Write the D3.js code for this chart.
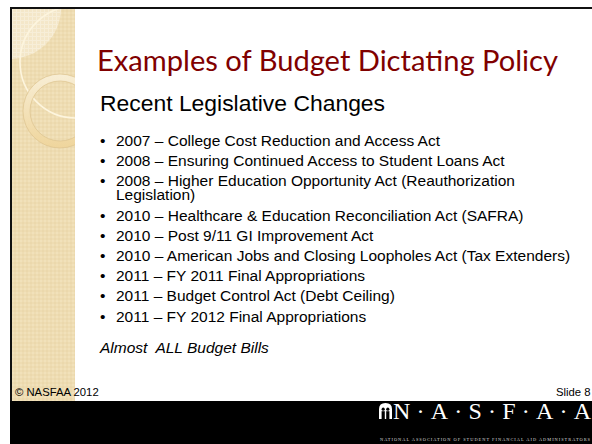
<!DOCTYPE html>
<html lang="en">
<head>
<meta charset="UTF-8">
<title>Examples of Budget Dictating Policy</title>
<script src="https://d3js.org/d3.v7.min.js"></script>
<style>
    body { margin: 0; background: #fff; }
    svg { display: block; }
    text { white-space: pre; }
</style>
</head>
<body>
<svg id="slide" width="592" height="444"></svg>
<script>
    // slide text
    const title = "Examples of Budget Dictating Policy";
    const subtitle = "Recent Legislative Changes";
    const bullets = [
        ["2007 – College Cost Reduction and Access Act"],
        ["2008 – Ensuring Continued Access to Student Loans Act"],
        ["2008 – Higher Education Opportunity Act (Reauthorization", "Legislation)"],
        ["2010 – Healthcare & Education Reconciliation Act (SAFRA)"],
        ["2010 – Post 9/11 GI Improvement Act"],
        ["2010 – American Jobs and Closing Loopholes Act (Tax Extenders)"],
        ["2011 – FY 2011 Final Appropriations"],
        ["2011 – Budget Control Act (Debt Ceiling)"],
        ["2011 – FY 2012 Final Appropriations"]
    ];
    const note = "Almost  ALL Budget Bills";
    const footerLeft = "© NASFAA 2012";
    const footerRight = "Slide 8";
    const logoText = "N·A·S·F·A·A";
    const logoSub = "NATIONAL ASSOCIATION OF STUDENT FINANCIAL AID ADMINISTRATORS";

    const svg = d3.select("#slide");
    const W = 592, H = 444;
    const defs = svg.append("defs");

    // subtle woven texture on the side panel
    const pat = defs.append("pattern").attr("id", "weave")
        .attr("width", 4).attr("height", 4).attr("patternUnits", "userSpaceOnUse");
    pat.append("rect").attr("width", 4).attr("height", 4).attr("fill", "#eedcb2");
    pat.append("rect").attr("width", 2).attr("height", 2).attr("fill", "#f1e1ba");
    pat.append("rect").attr("x", 2).attr("y", 2).attr("width", 2).attr("height", 2).attr("fill", "#ebd8ac");

    const pat2 = defs.append("pattern").attr("id", "weaveLight")
        .attr("width", 4).attr("height", 4).attr("patternUnits", "userSpaceOnUse");
    pat2.append("rect").attr("width", 4).attr("height", 4).attr("fill", "#f4e7c9");
    pat2.append("rect").attr("width", 4).attr("height", 1).attr("fill", "#f7eed8");
    pat2.append("rect").attr("width", 1).attr("height", 4).attr("fill", "#f7eed8");

    const ringGrad = defs.append("linearGradient").attr("id", "ringGrad")
        .attr("x1", 0).attr("y1", 0).attr("x2", 0).attr("y2", 1);
    ringGrad.append("stop").attr("offset", "0%").attr("stop-color", "#f8eed5");
    ringGrad.append("stop").attr("offset", "100%").attr("stop-color", "#efd59c");

    defs.append("clipPath").attr("id", "panelClip")
        .append("rect").attr("x", 12).attr("y", 9).attr("width", 63).attr("height", 392);

    // outer frame lines
    svg.append("rect").attr("x", 10).attr("y", 7).attr("width", W - 10).attr("height", 2).attr("fill", "#111");
    svg.append("rect").attr("x", 10).attr("y", 7).attr("width", 2).attr("height", H - 7).attr("fill", "#111");

    // left decorative panel
    const panel = svg.append("g").attr("clip-path", "url(#panelClip)");
    panel.append("rect").attr("x", 12).attr("y", 9).attr("width", 63).attr("height", 392).attr("fill", "url(#weave)");
    panel.append("circle").attr("cx", 10).attr("cy", 8).attr("r", 51).attr("fill", "url(#weaveLight)");
    panel.append("circle").attr("cx", 76).attr("cy", 62).attr("r", 56)
        .attr("fill", "none").attr("stroke", "#fdf5de").attr("stroke-width", 1.6);
    panel.append("path")
        .attr("d", d3.arc()({innerRadius: 30, outerRadius: 37, startAngle: 0, endAngle: 2 * Math.PI}))
        .attr("transform", "translate(60,111)")
        .attr("fill", "url(#ringGrad)").attr("stroke", "#dcc38e").attr("stroke-width", 0.7);

    // title block
    svg.append("text")
        .attr("x", 97).attr("y", 71)
        .attr("font-family", "Lato, 'Open Sans', sans-serif")
        .attr("font-size", 29.5).attr("fill", "#800000")
        .attr("textLength", 461).attr("lengthAdjust", "spacingAndGlyphs")
        .text(title);

    svg.append("text")
        .attr("x", 100).attr("y", 111)
        .attr("font-family", "'Liberation Sans', Arial, sans-serif")
        .attr("font-size", 22.9).attr("fill", "#000")
        .text(subtitle);

    // bullet list layout: one unit per text line, plus a gap per item
    const lineH = 14.5, itemGap = 5.7;
    const rows = [];
    let lineIdx = 0;
    bullets.forEach((lines, i) => {
        lines.forEach((t, j) => {
            rows.push({text: t, first: j === 0, line: lineIdx, item: i});
            lineIdx++;
        });
    });
    const y = d3.scaleLinear().domain([0, 1]).range([145.5, 145.5 + lineH]);
    const rowY = d => y(d.line) + d.item * itemGap;

    const list = svg.append("g")
        .attr("font-family", "'Liberation Sans', Arial, sans-serif")
        .attr("font-size", 15.5).attr("fill", "#000");

    list.selectAll("text.bul")
        .data(rows.filter(d => d.first))
        .join("text").attr("class", "bul")
        .attr("x", 100).attr("y", rowY)
        .text("•");

    list.selectAll("text.item")
        .data(rows)
        .join("text").attr("class", "item")
        .attr("x", 116).attr("y", rowY)
        .text(d => d.text);

    svg.append("text")
        .attr("x", 100).attr("y", 353)
        .attr("font-family", "'Liberation Sans', Arial, sans-serif")
        .attr("font-size", 15.5).attr("font-style", "italic")
        .text(note);

    // footer
    svg.append("text")
        .attr("x", 15).attr("y", 396)
        .attr("font-family", "'Liberation Sans', Arial, sans-serif")
        .attr("font-size", 11.3).text(footerLeft);
    svg.append("text")
        .attr("x", 556).attr("y", 396)
        .attr("font-family", "'Liberation Sans', Arial, sans-serif")
        .attr("font-size", 11.3).text(footerRight);

    // bottom black band with logo
    svg.append("rect").attr("x", 10).attr("y", 401).attr("width", W - 10).attr("height", H - 401).attr("fill", "#000");

    const logo = svg.append("g").attr("transform", "translate(379,403)");
    logo.append("path")
        .attr("d", "M0,16 L0,6 Q0,0 6.5,0 Q13,0 13,6 L13,16 Z")
        .attr("fill", "#fff");
    [[4.2, 6.2], [8.8, 6.2]].forEach(([cx, cy]) => {
        logo.append("circle").attr("cx", cx).attr("cy", cy).attr("r", 1.6).attr("fill", "#000");
        logo.append("rect").attr("x", cx - 1.6).attr("y", cy + 2).attr("width", 3.2).attr("height", 7.8).attr("fill", "#000");
    });

    svg.append("text")
        .attr("x", 393).attr("y", 419)
        .attr("font-family", "'Liberation Serif', 'DejaVu Serif', serif")
        .attr("font-size", 24).attr("fill", "#fff")
        .attr("textLength", 198).attr("lengthAdjust", "spacing")
        .text(logoText);

    svg.append("text")
        .attr("x", 380).attr("y", 441)
        .attr("font-family", "'Liberation Serif', serif")
        .attr("font-size", 4.4).attr("fill", "#ddd")
        .attr("textLength", 210).attr("lengthAdjust", "spacing")
        .text(logoSub);
</script>
</body>
</html>
